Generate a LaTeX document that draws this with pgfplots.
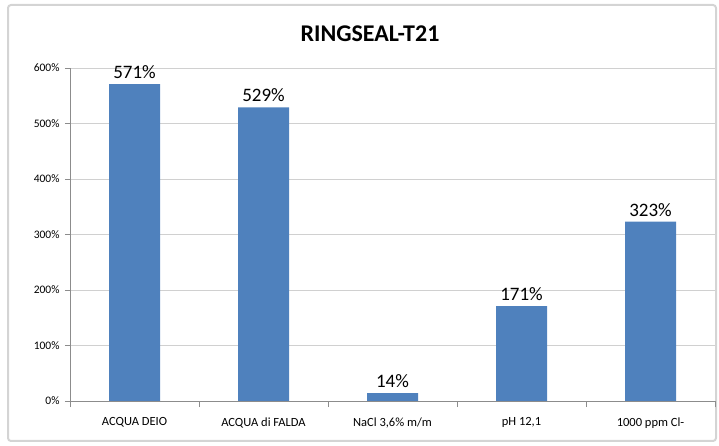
\documentclass[border=0pt]{standalone}
\usepackage{pgfplots}
\pgfplotsset{compat=1.18}
\usepackage{fontspec}
\setmainfont{Carlito}
\definecolor{barblue}{HTML}{4F81BD}
\definecolor{gridgray}{HTML}{D0D0D0}
\definecolor{axisgray}{HTML}{8C8C8C}
\definecolor{framegray}{HTML}{D4D4D4}
\begin{document}
\begin{tikzpicture}
\useasboundingbox (0,0) rectangle (719bp,446bp);
\draw[framegray, line width=2bp, rounded corners=3bp] (8bp,5bp) rectangle (716bp,441bp);
\node[font=\fontsize{24bp}{28bp}\selectfont\bfseries] at (370bp,412bp) {RINGSEAL-T21};
\begin{axis}[
    at={(70bp,45bp)}, anchor=south west,
    scale only axis,
    width=645bp, height=333bp,
    ybar, bar width=51bp,
    xmin=-0.5, xmax=4.5,
    ymin=0, ymax=600,
    xtick={0,1,2,3,4},
    xticklabels={ACQUA DEIO, ACQUA di FALDA, {NaCl 3,6\% m/m}, {pH 12,1}, 1000 ppm Cl-},
    minor xtick={-0.5,0.5,1.5,2.5,3.5,4.5},
    major x tick style={draw=none},
    minor x tick style={axisgray},
    minor tick length=6bp,
    ytick={0,100,...,600},
    yticklabel={\pgfmathprintnumber{\tick}\%},
    /pgf/number format/assume math mode=true,
    tick align=outside,
    major tick length=5bp,
    axis x line*=bottom, axis y line*=left,
    axis line style={axisgray, line width=0.8bp},
    y tick style={axisgray},
    ymajorgrids, grid style={gridgray, line width=0.8bp},
    xticklabel style={font=\fontsize{12.5bp}{15bp}\selectfont, yshift=-8bp},
    yticklabel style={font=\fontsize{11.5bp}{14bp}\selectfont, xshift=-2bp},
    nodes near coords={\pgfmathprintnumber{\pgfplotspointmeta}\%},
    nodes near coords style={font=\fontsize{19bp}{22bp}\selectfont, color=black, yshift=2bp},
]
\addplot[fill=barblue, draw=none] coordinates {(0,571) (1,529) (2,14) (3,171) (4,323)};
\end{axis}
\end{tikzpicture}
\end{document}
